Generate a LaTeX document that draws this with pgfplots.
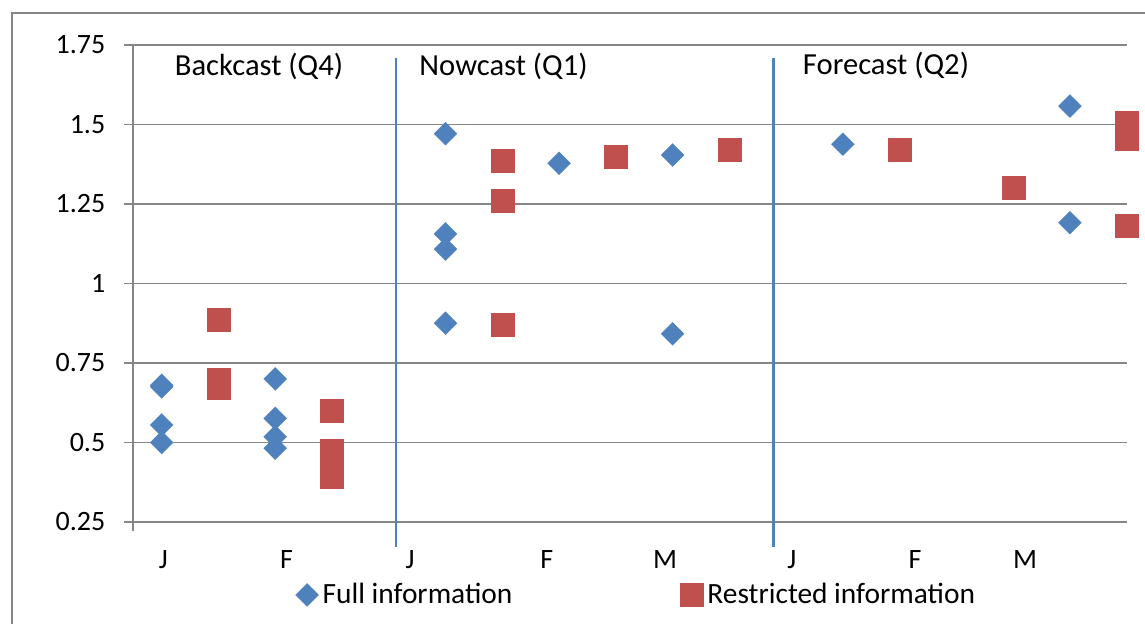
\documentclass[border=0pt]{standalone}
\usepackage{fontspec}
\setmainfont{Carlito}
\usepackage{pgfplots}
\pgfplotsset{compat=1.18}
\definecolor{fullblue}{HTML}{4F81BD}
\definecolor{resred}{HTML}{C0504D}
\definecolor{gridgray}{HTML}{868686}
\pgfplotsset{dotlegend/.style={legend image code/.code={\draw[##1] plot coordinates {(0pt,0pt)};}}}
\begin{document}
\begin{tikzpicture}
\clip (-66.65pt,-51pt) rectangle (505.85pt,261pt);
\fill[white] (-66.65pt,-51pt) rectangle (505.85pt,261pt);
\draw[gridgray, line width=1.2pt] (-60.65pt,-60pt) -- (-60.65pt,254.5pt) -- (520pt,254.5pt);
\begin{axis}[
  scale only axis, width=496.7pt, height=238.5pt,
  xmin=0.5, xmax=18, ymin=0.25, ymax=1.75,
  clip=false,
  axis lines*=left,
  axis line style={gridgray, line width=0.8pt},
  ytick={0.25,0.5,0.75,1,1.25,1.5,1.75},
  yticklabels={0.25,0.5,0.75,1,1.25,1.5,1.75},
  ymajorgrids, grid style={gridgray, line width=0.8pt},
  ytick align=outside,
  major tick length=4.5pt,
  ytick style={gridgray, line width=0.8pt},
  xtick={1.028,3.202,5.374,7.783,9.867,12.099,14.271,16.208},
  xticklabels={J,F,J,F,M,J,F,M},
  xtick style={draw=none},
  tick label style={font=\fontsize{14}{16}\selectfont},
  xticklabel style={yshift=-10.5pt},
  yticklabel style={xshift=-6pt},
  legend columns=2,
  legend style={at={(0.1569,-0.153)}, anchor=west, draw=none, fill=none,
    font=\fontsize{14.7}{17}\selectfont,
    /tikz/every even column/.append style={column sep=82pt}},
]
\addplot[fullblue, only marks, mark=square*, mark size=4.07pt,
  mark options={rotate=45, fill=fullblue, draw=fullblue, line width=0.1pt}, dotlegend]
  coordinates {
  (1,0.68) (1,0.675) (1,0.555) (1,0.5)
  (3,0.70) (3,0.576) (3,0.518) (3,0.482)
  (6,1.471) (6,1.156) (6,1.108) (6,0.875)
  (8,1.378)
  (10,1.404) (10,0.842)
  (13,1.438)
  (17,1.558) (17,1.191)
  };
\addlegendentry{Full information}
\addplot[resred, only marks, mark=square*, mark size=5.75pt,
  mark options={fill=resred, draw=resred, line width=0.1pt}, dotlegend]
  coordinates {
  (2,0.888) (2,0.697) (2,0.672)
  (4,0.599) (4,0.475) (4,0.435) (4,0.394)
  (7,1.386) (7,1.262) (7,0.872)
  (9,1.400)
  (11,1.42)
  (14,1.42)
  (16,1.30)
  (18,1.507) (18,1.456) (18,1.183)
  };
\addlegendentry{Restricted information}
\draw[fullblue, line width=1.3pt] (axis cs:5.128,1.709) -- (axis cs:5.128,0.171);
\draw[fullblue, line width=1.3pt] (axis cs:11.774,1.709) -- (axis cs:11.774,0.171);
\draw[gridgray, line width=0.8pt] (rel axis cs:0,0) -- ++(0pt,-4.5pt);
\node[font=\fontsize{15.3}{18}\selectfont] at (axis cs:2.714,1.682) {Backcast (Q4)};
\node[font=\fontsize{15.3}{18}\selectfont] at (axis cs:7.022,1.684) {Nowcast (Q1)};
\node[font=\fontsize{15.3}{18}\selectfont] at (axis cs:13.760,1.687) {Forecast (Q2)};
\end{axis}
\end{tikzpicture}
\end{document}
